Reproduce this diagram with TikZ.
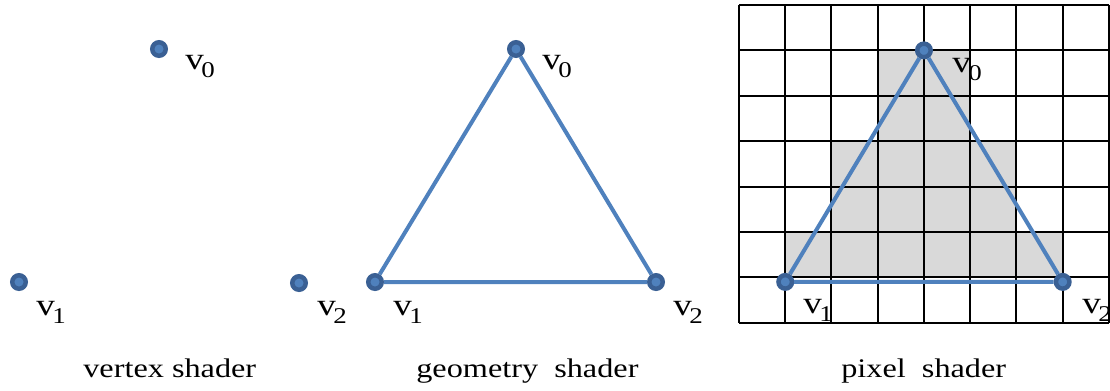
\documentclass[tikz,border=0pt]{standalone}
\usepackage{fontspec}
\setmainfont[FakeStretch=1.2]{Liberation Serif}
\usetikzlibrary{positioning}
\definecolor{dotout}{HTML}{3A6094}
\definecolor{dotin}{HTML}{4F81BD}
\definecolor{triline}{HTML}{4F81BD}
\definecolor{cellgray}{HTML}{D9D9D9}
\newcommand{\vlab}[1]{v\kern-1.5pt\raisebox{-5pt}{\fontsize{12.8}{14}\selectfont #1}}

\begin{document}
\begin{tikzpicture}[x=0.02cm,y=-0.02cm,
    vtx/.style={circle,draw=dotout,fill=dotin,line width=0.09cm,minimum size=0.27cm,inner sep=0pt},
    lbl/.style={anchor=base west,inner sep=0pt,font=\fontsize{17.6}{20}\selectfont},
    captxt/.style={anchor=base west,inner sep=0pt,font=\fontsize{15.3}{18}\selectfont},
    tri/.style={draw=triline,line width=0.08cm}]
    \useasboundingbox (0,0) rectangle (1110,390);
    % vertex shader
    \node[vtx] (a0) at (159,49) {};
    \node[vtx] (a1) at (19,282) {};
    \node[lbl] (la0) at (185,69) {\vlab{0}};
    \node[lbl] (la1) at (36,315) {\vlab{1}};
    % geometry shader
    \node[vtx] (b2x) at (299,283) {};
    \node[vtx] (b1) at (375,282) {};
    \node[vtx] (b0) at (516,49) {};
    \node[vtx] (b2) at (656,282) {};
    \draw[tri] (b0) -- (b1) -- (b2) -- (b0);
    \node[lbl] (lb2x) at (317,315) {\vlab{2}};
    \node[lbl] (lb1) at (393,315) {\vlab{1}};
    \node[lbl] (lb0) at (542,69) {\vlab{0}};
    \node[lbl] (lb2) at (673,315) {\vlab{2}};
    % pixel shader
    \begin{scope}[shift={(739,5)},x=0.925cm,y=-0.908cm]
      \fill[cellgray] (3,1) rectangle (5,3);
      \fill[cellgray] (2,3) rectangle (6,5);
      \fill[cellgray] (1,5) rectangle (7,6);
      \foreach \i in {0,...,8}
        \draw[line width=0.04cm] (\i,0) -- (\i,7);
      \foreach \j in {0,...,7}
        \draw[line width=0.04cm] (0,\j) -- (8,\j);
      \node[vtx] (c0) at (4,1) {};
      \node[vtx] (c1) at (1,6.1) {};
      \node[vtx] (c2) at (7,6.1) {};
      \draw[tri] (c0) -- (c1) -- (c2) -- (c0);
    \end{scope}
    \node[lbl] (lc0) at (952,72) {\vlab{0}};
    \node[lbl] (lc1) at (803,313) {\vlab{1}};
    \node[lbl] (lc2) at (1082,313) {\vlab{2}};
    % captions
    \node[captxt] (capv) at (83,377) {vertex shader};
    \node[captxt] (capg) at (416,377) {geometry\ \ shader};
    \node[captxt] (capp) at (841,377) {pixel\ \ shader};
\end{tikzpicture}
\end{document}
